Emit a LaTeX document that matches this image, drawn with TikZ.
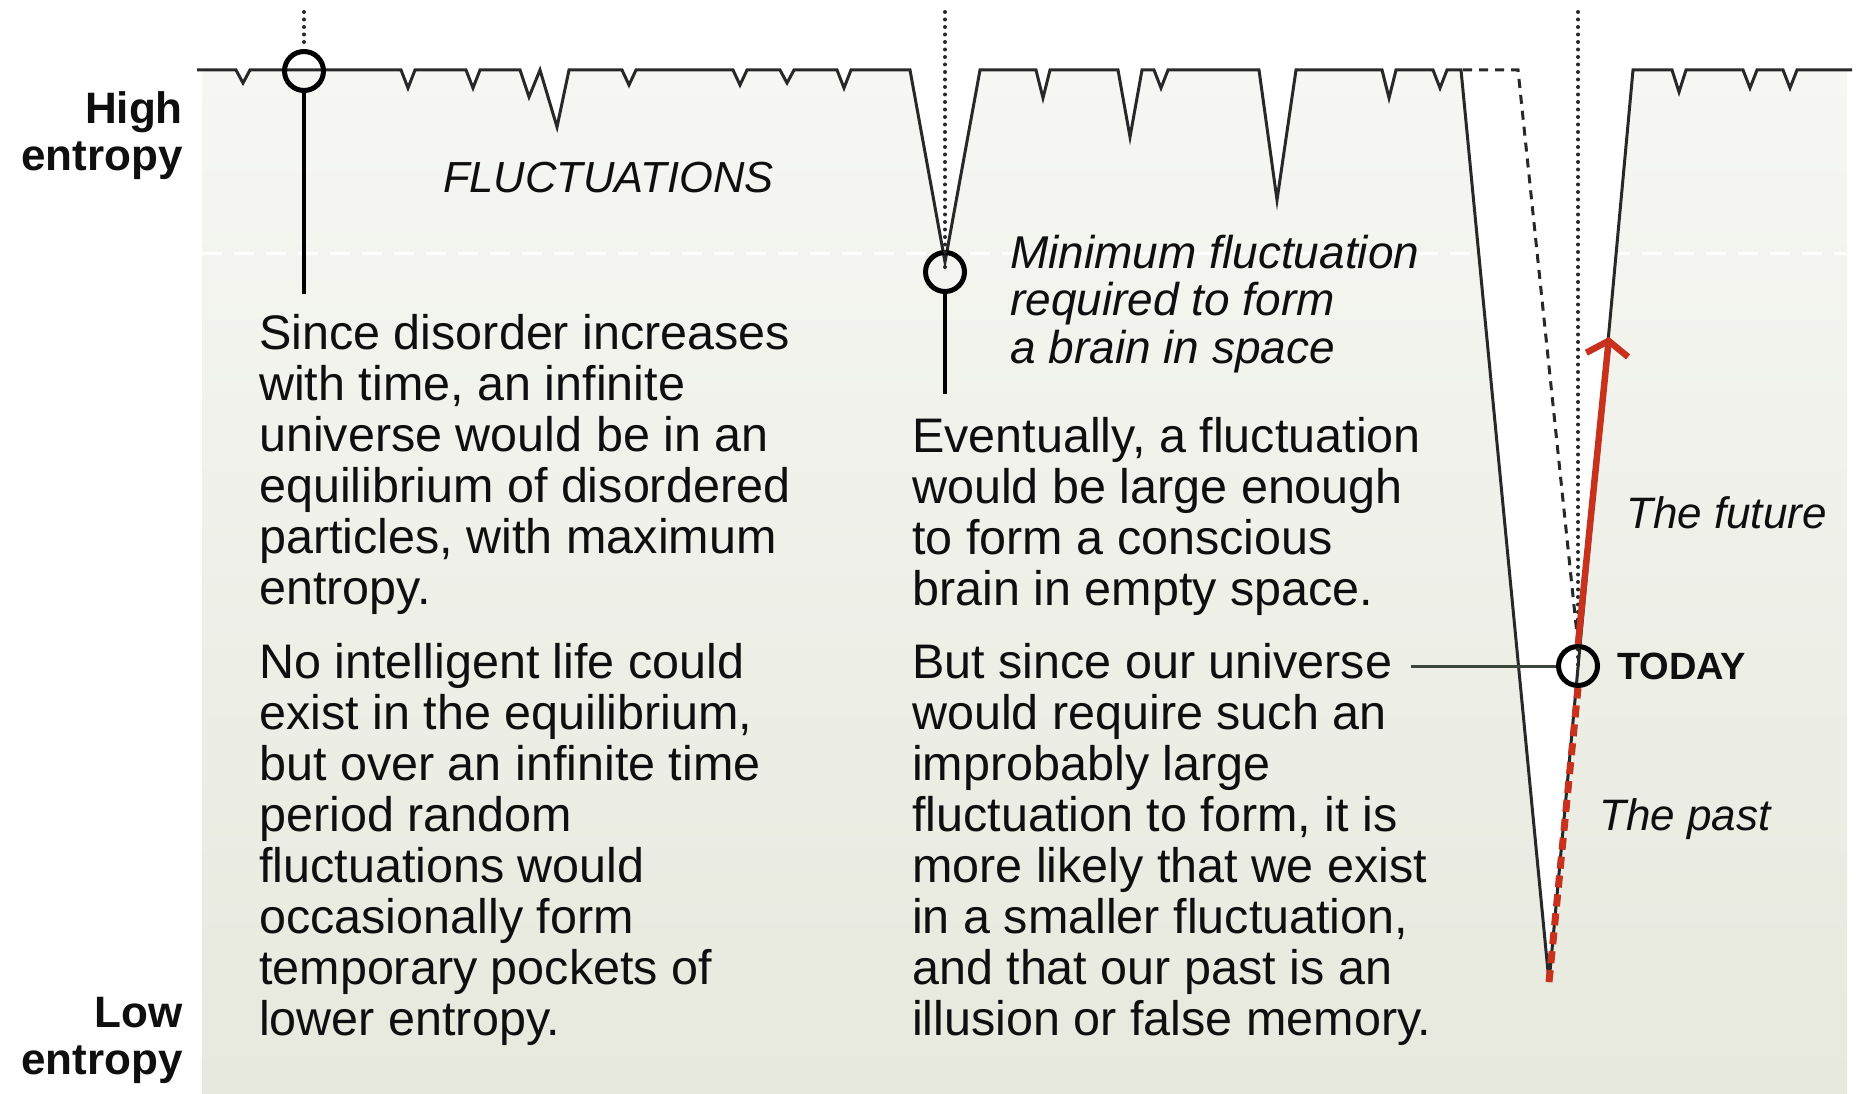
\documentclass[tikz,border=0pt]{standalone}
\usepackage{fontspec}
\setmainfont{Liberation Sans}
\usetikzlibrary{arrows.meta}
\definecolor{panelTop}{RGB}{246,247,243}
\definecolor{panelBot}{RGB}{231,233,222}
\definecolor{curveGray}{RGB}{40,40,40}
\definecolor{dotGray}{RGB}{40,40,40}
\definecolor{redArrow}{RGB}{200,50,28}
\definecolor{linkGray}{RGB}{60,70,60}
\definecolor{inkBlack}{RGB}{15,15,15}
\newcommand\myBody{\fontsize{48.5}{51}\selectfont}
\newcommand\myNote{\fontsize{46}{47.5}\selectfont\itshape}
\newcommand\mySide{\fontsize{44}{47}\selectfont\bfseries}
\def\entropycurve{(197,70) -- (236,70) -- (243,83) -- (250,70)
 -- (401,70) -- (408,88) -- (415,70)
 -- (466,70) -- (473,88) -- (480,70)
 -- (520,70) -- (529,97) -- (540,70) -- (557,127) -- (569,70)
 -- (622,70) -- (629,85) -- (636,70)
 -- (733,70) -- (740,85) -- (747,70)
 -- (780,70) -- (787,83) -- (794,70)
 -- (837,70) -- (844,88) -- (851,70)
 -- (910,70) -- (945,262) -- (980,70)
 -- (1036,70) -- (1043,98) -- (1050,70)
 -- (1118,70) -- (1130,137) -- (1142,70)
 -- (1154,70) -- (1161,88) -- (1168,70)
 -- (1259,70) -- (1277,200) -- (1296,70)
 -- (1382,70) -- (1389,98) -- (1396,70)
 -- (1433,70) -- (1440,88) -- (1447,70)
 -- (1461,70) -- (1549,982) -- (1633,70)
 -- (1672,70) -- (1679,92) -- (1686,70)
 -- (1743,70) -- (1750,88) -- (1757,70)
 -- (1783,70) -- (1790,88) -- (1797,70)
 -- (1852,70)}
\begin{document}
\begin{tikzpicture}[x=1pt,y=-1pt,
  curve/.style={draw=curveGray, line width=3pt, line join=miter},
  ring/.style={circle, draw=black, line width=5pt, minimum size=39pt, inner sep=0pt},
  stem/.style={draw=black, line width=3.2pt},
  link/.style={draw=linkGray, line width=3pt},
  dotline/.style={draw=dotGray, line width=4pt, line cap=round, dash pattern=on 0pt off 7.5pt},
  dashline/.style={draw=dotGray, line width=3pt, dash pattern=on 9pt off 7pt},
  reddash/.style={draw=redArrow, line width=7pt, dash pattern=on 12pt off 7pt},
  redsolid/.style={draw=redArrow, line width=6.5pt, -{Straight Barb[length=14pt,width=42pt]}},
  txt/.style={inner sep=0pt, anchor=base west, text=inkBlack, font=\myBody},
  note/.style={inner sep=0pt, anchor=base west, text=inkBlack, font=\myNote},
  side/.style={inner sep=0pt, anchor=base east, text=inkBlack, font=\mySide}]
\useasboundingbox (0,0) rectangle (1862,1094);
\fill[white] (0,0) rectangle (1862,1094);
\shade[top color=panelTop, bottom color=panelBot] (202,60) rectangle (1847,1094);
\draw[white, line width=3pt, dash pattern=on 20pt off 12pt] (202,253) -- (1847,253);
\fill[white] \entropycurve -- (1862,0) -- (197,0) -- cycle;
\draw[curve] \entropycurve;

% markers
\node[ring] (c1) at (304,71) {};
\node[ring] (c2) at (945,272) {};
\node[ring] (tc) at (1578,666) {};

% coordinates for free ends
\coordinate (d1) at (304,12);
\coordinate (d2) at (945,12);
\coordinate (d3) at (1578,12);
\coordinate (c1end) at (304,294);
\coordinate (c2end) at (945,394);
\coordinate (tl) at (1411,666);
\coordinate (dstart) at (1463,70);
\coordinate (dknee) at (1518,70);
\coordinate (vtip) at (1549,982);
\coordinate (atip) at (1609,337);

\draw[dotline] (d1) -- (c1.north);
\draw[dotline] (d2) -- (c2.center);
\draw[dotline] (d3) -- (tc.center);
\draw[dashline] (dstart) -- (dknee) -- (tc.north);
\draw[reddash] (vtip) -- (tc.south);
\draw[redsolid] (tc.north) -- (atip);
\draw[stem] (c1.south) -- (c1end);
\draw[stem] (c2.south) -- (c2end);
\draw[link] (tl) -- (tc.west);

% texts
\node[side] (hi) at (183,124) {\parbox[t]{250pt}{\raggedleft High\\ entropy}};
\node[side] (lo) at (183,1027) {\parbox[t]{250pt}{\raggedleft Low\\ entropy}};
\node[inner sep=0pt, anchor=base west, text=inkBlack, font=\fontsize{43.5}{45}\selectfont\itshape] (fl) at (443,193) {FLUCTUATIONS};
\node[note] (mn) at (1010,268) {\parbox[t]{500pt}{\raggedright Minimum fluctuation\\ required to form\\ a brain in space}};
\node[txt] (p1) at (259,349) {\parbox[t]{640pt}{\raggedright Since disorder increases\\ with time, an infinite\\ universe would be in an\\ equilibrium of disordered\\ particles, with maximum\\ entropy.}};
\node[txt] (p2) at (259,678) {\parbox[t]{640pt}{\raggedright No intelligent life could\\ exist in the equilibrium,\\ but over an infinite time\\ period random\\ fluctuations would\\ occasionally form\\ temporary pockets of\\ lower entropy.}};
\node[txt] (m1) at (912,452) {\parbox[t]{600pt}{\raggedright Eventually, a fluctuation\\ would be large enough\\ to form a conscious\\ brain in empty space.}};
\node[txt] (m2) at (912,678) {\parbox[t]{600pt}{\raggedright But since our universe\\ would require such an\\ improbably large\\ fluctuation to form, it is\\ more likely that we exist\\ in a smaller fluctuation,\\ and that our past is an\\ illusion or false memory.}};
\node[inner sep=0pt, anchor=base west, text=inkBlack, font=\fontsize{38}{40}\selectfont\bfseries] (today) at (1617,679) {TODAY};
\node[inner sep=0pt, anchor=base west, text=inkBlack, font=\fontsize{44}{46}\selectfont\itshape] (fut) at (1626,528) {The future};
\node[inner sep=0pt, anchor=base west, text=inkBlack, font=\fontsize{44}{46}\selectfont\itshape] (past) at (1599,830) {The past};
\end{tikzpicture}
\end{document}
